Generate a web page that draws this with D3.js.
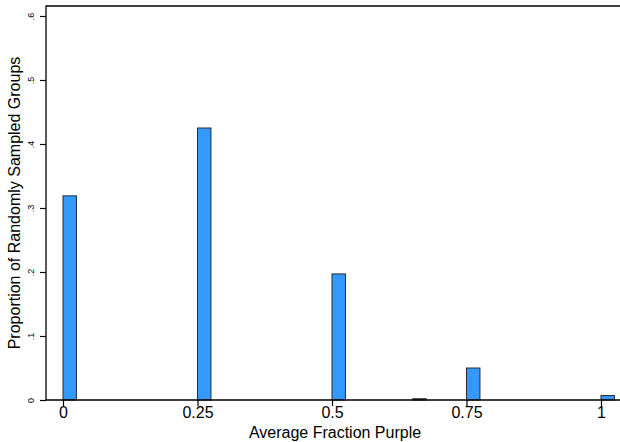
<!DOCTYPE html>
<html>
<head>
<meta charset="utf-8">
<script src="https://cdn.jsdelivr.net/npm/d3@7"></script>
<style>
  body { margin: 0; background: #fff; }
  text { font-family: "Liberation Sans", Arial, sans-serif; fill: #000; }
</style>
</head>
<body>
<script>
// histogram bins (left edge) and the proportion in each
var binStarts = [0, 0.25, 0.5, 0.65, 0.75, 1];
var proportions = [0.319, 0.425, 0.197, 0.002, 0.05, 0.007];
var binWidth = 0.025;

var xTicks = [0, 0.25, 0.5, 0.75, 1];
var xTickLabels = ["0", "0.25", "0.5", "0.75", "1"];
var yTicks = [0, 0.1, 0.2, 0.3, 0.4, 0.5, 0.6];
var yTickLabels = ["0", ".1", ".2", ".3", ".4", ".5", ".6"];

drawChart();

function drawChart(){

    var width = 620, height = 442;
    var plotLeft = 46, plotTop = 6, plotBottom = 400, plotRight = 630;

    var svg = d3.select("body").append("svg")
        .attr("width", width)
        .attr("height", height);

    var x = d3.scaleLinear().domain([0, 1]).range([63, 601]);
    var y = d3.scaleLinear().domain([0, 0.6]).range([400, 16]);

    //bars
    svg.selectAll("rect.bar")
        .data(binStarts)
        .enter().append("rect")
        .attr("class", "bar")
        .attr("x", function(d){ return x(d); })
        .attr("width", function(d){ return x(d + binWidth) - x(d); })
        .attr("y", function(d, i){ return y(proportions[i]); })
        .attr("height", function(d, i){ return y(0) - y(proportions[i]); })
        .attr("fill", "#3399ff")
        .attr("stroke", "#2b2b2b")
        .attr("stroke-width", 1);

    //frame lines (top, left, bottom)
    svg.append("path")
        .attr("d", "M" + plotRight + "," + plotTop + "H" + plotLeft + "V" + plotBottom + "H" + plotRight)
        .attr("fill", "none")
        .attr("stroke", "#000")
        .attr("stroke-width", 1.3);

    //y axis
    var yAxis = d3.axisLeft(y)
        .tickValues(yTicks)
        .tickSize(6)
        .tickFormat(function(d, i){ return yTickLabels[i]; });

    var gy = svg.append("g")
        .attr("transform", "translate(" + plotLeft + ",0)")
        .call(yAxis);
    gy.select(".domain").remove();
    gy.selectAll(".tick line").attr("stroke", "#000").attr("stroke-width", 1.2);
    gy.selectAll(".tick text")
        .attr("x", 0).attr("dy", 0)
        .attr("transform", "translate(-12,0) rotate(-90)")
        .attr("text-anchor", "middle")
        .style("font-size", "9px")
        .style("font-family", "Liberation Sans, Arial, sans-serif");

    //x axis
    var xAxis = d3.axisBottom(x)
        .tickValues(xTicks)
        .tickSize(6)
        .tickFormat(function(d, i){ return xTickLabels[i]; });

    var gx = svg.append("g")
        .attr("transform", "translate(0," + plotBottom + ")")
        .call(xAxis);
    gx.select(".domain").remove();
    gx.selectAll(".tick line").attr("stroke", "#000").attr("stroke-width", 1.2);
    gx.selectAll(".tick text")
        .attr("y", 7)
        .style("font-size", "16px")
        .style("font-family", "Liberation Sans, Arial, sans-serif");

    //axis titles
    svg.append("text")
        .attr("x", 335)
        .attr("y", 438)
        .attr("text-anchor", "middle")
        .style("font-size", "16px")
        .text("Average Fraction Purple");

    svg.append("text")
        .attr("transform", "translate(20," + ((plotTop + plotBottom) / 2) + ") rotate(-90)")
        .attr("text-anchor", "middle")
        .style("font-size", "16px")
        .text("Proportion of Randomly Sampled Groups");
}
</script>
</body>
</html>
